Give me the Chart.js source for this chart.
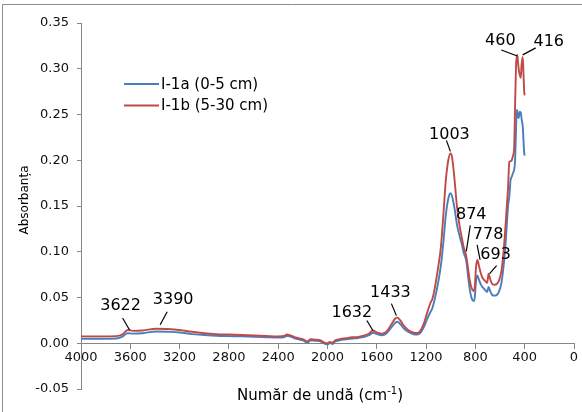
<!DOCTYPE html>
<html>
<head>
<meta charset="utf-8">
<script src="https://cdn.jsdelivr.net/npm/chart.js@4.4.1/dist/chart.umd.min.js"></script>
<style>
  html, body { margin: 0; padding: 0; background: #fff; }
  canvas { display: block; }
</style>
</head>
<body>
<canvas id="spectra" width="582" height="412"></canvas>
<script>
// wave numbers (cm-1), shared by both samples
var wavenumbers = [4000, 3800, 3700, 3660, 3622, 3580, 3500, 3390, 3300, 3200, 3100, 3000, 2900, 2800, 2700, 2600,
    2500, 2400, 2350, 2330, 2300, 2250, 2200, 2160, 2140, 2100, 2060, 2030, 2000, 1980, 1960, 1940, 1900, 1850,
    1800, 1750, 1700, 1660, 1632, 1600, 1560, 1520, 1480, 1450, 1433, 1410, 1380, 1340, 1300, 1270, 1250, 1220,
    1190, 1165, 1150, 1130, 1100, 1080, 1060, 1040, 1020, 1003, 990, 970, 950, 930, 910, 895, 874, 860, 845, 830,
    815, 805, 795, 784, 770, 755, 740, 720, 705, 693, 680, 665, 645, 625, 610, 590, 575, 560, 545, 535, 525, 515,
    505, 495, 485, 478, 470, 465, 460, 455, 449, 440, 432, 425, 416, 410, 404, 400];

// I-1a (0-5 cm)
var absI1a = [.0050, .0050, .0055, .0075, .0110, .0105, .0110, .0128, .0125, .0118, .0100, .0090, .0082, .0078,
    .0075, .0070, .0066, .0062, .0068, .0082, .0072, .0048, .0032, .0005, .0032, .0028, .0022, -.0002, -.0012,
    .0002, -.0008, .0016, .0032, .0042, .0052, .0058, .0070, .0090, .0115, .0100, .0088, .0110, .0175, .0225,
    .0235, .0210, .0160, .0120, .0098, .0095, .0108, .0170, .0270, .0340, .0380, .0480, .0680, .0850, .1100,
    .1400, .1580, .1640, .1610, .1480, .1300, .1180, .1080, .0990, .0900, .0740, .0580, .0490, .0460, .0500,
    .0680, .0740, .0690, .0640, .0610, .0580, .0560, .0616, .0570, .0530, .0520, .0530, .0560, .0650, .0800,
    .1000, .1300, .1500, .1600, .1780, .1820, .1860, .1900, .2000, .2350, .2550, .2540, .2480, .2460, .2530,
    .2520, .2450, .2370, .2220, .2080, .2050];

// I-1b (5-30 cm)
var absI1b = [.0075, .0075, .0080, .0100, .0145, .0135, .0140, .0158, .0155, .0145, .0125, .0110, .0100, .0095,
    .0090, .0085, .0080, .0075, .0080, .0095, .0085, .0060, .0045, .0020, .0045, .0040, .0035, .0010, .0000,
    .0015, .0005, .0030, .0045, .0055, .0065, .0070, .0085, .0110, .0140, .0120, .0105, .0130, .0210, .0270,
    .0280, .0250, .0190, .0140, .0115, .0112, .0130, .0210, .0340, .0440, .0480, .0600, .0850, .1050, .1400,
    .1780, .2000, .2075, .2040, .1800, .1500, .1300, .1150, .1050, .0950, .0820, .0680, .0600, .0570, .0620,
    .0830, .0910, .0840, .0760, .0710, .0680, .0660, .0760, .0700, .0650, .0640, .0650, .0680, .0780, .0950,
    .1200, .1500, .1700, .1980, .1990, .2000, .2050, .2150, .2600, .3050, .3120, .3150, .3080, .3000, .2930,
    .2900, .3050, .3130, .2950, .2750, .2710];

var seriesNames = ['I-1a (0-5 cm)', 'I-1b (5-30 cm)'];
var seriesColors = ['#4a7ebb', '#be4b48'];

// labelled bands and the absorbance where the leader line points
var peakLabels = [3622, 3390, 1632, 1433, 1003, 874, 778, 693, 460, 416];
var peakAbs = [.0145, .0158, .014, .028, .2075, .095, .091, .076, .315, .313];

// leader line start / end and text centre, px offsets from the band point
var peakOffsets = [
    [[-5, -12], [2, 0], [-7, -24]],
    [[11, -17], [4, -4], [17, -29]],
    [[-6, -10], [0, 0], [-21, -18]],
    [[-6, -14], [-1, -2], [-7, -25]],
    [[-4, -13], [0, -2], [-1, -19]],
    [[4, -31], [0, -5], [5, -41]],
    [[-1, -15], [2, 0], [10, -25]],
    [[8, -8], [1, 0], [7, -19]],
    [[-16, -5], [0, 1], [-17, -14]],
    [[13, -9], [0, -2], [26, -15]]
];

var FONT = '"DejaVu Sans", Arial, sans-serif';
var AXIS_GREY = '#868686';

function toPoints(values) {
    return wavenumbers.map(function (wn, i) { return {x: wn, y: values[i]}; });
}

var extras = {
    id: 'extras',
    afterDraw: function (chart) {
        var ctx = chart.ctx;
        var xs = chart.scales.x, ys = chart.scales.y;
        ctx.save();

        // chart border (Excel style, cut off at right/bottom)
        ctx.strokeStyle = '#8c8c8c';
        ctx.lineWidth = 1;
        ctx.beginPath();
        ctx.moveTo(2.5, 412);
        ctx.lineTo(2.5, 4.5);
        ctx.lineTo(582, 4.5);
        ctx.stroke();

        // peak annotations
        ctx.fillStyle = '#000';
        ctx.strokeStyle = '#000';
        ctx.font = '16px ' + FONT;
        ctx.textAlign = 'center';
        ctx.textBaseline = 'middle';
        peakLabels.forEach(function (wn, i) {
            var px = xs.getPixelForValue(wn);
            var py = ys.getPixelForValue(peakAbs[i]);
            var o = peakOffsets[i];
            ctx.lineWidth = 1.2;
            ctx.beginPath();
            ctx.moveTo(px + o[0][0], py + o[0][1]);
            ctx.lineTo(px + o[1][0], py + o[1][1]);
            ctx.stroke();
            ctx.fillText(String(wn), px + o[2][0], py + o[2][1]);
        });

        // legend
        ctx.font = '15px ' + FONT;
        ctx.textAlign = 'left';
        seriesNames.forEach(function (name, i) {
            var y = 84 + i * 21.5;
            ctx.strokeStyle = seriesColors[i];
            ctx.lineWidth = 2;
            ctx.beginPath();
            ctx.moveTo(124, y);
            ctx.lineTo(159, y);
            ctx.stroke();
            ctx.fillStyle = '#000';
            ctx.fillText(name, 161, y + 1);
        });

        // y axis title
        ctx.save();
        ctx.translate(25, 200);
        ctx.rotate(-Math.PI / 2);
        ctx.font = '12px ' + FONT;
        ctx.textAlign = 'center';
        ctx.fillText('Absorbanța', 0, 0);
        ctx.restore();

        // x axis title with superscript
        var main = 'Număr de undă (cm', sup = '-1', tail = ')';
        ctx.font = '15px ' + FONT;
        var w1 = ctx.measureText(main).width, w3 = ctx.measureText(tail).width;
        ctx.font = '10px ' + FONT;
        var w2 = ctx.measureText(sup).width;
        var x0 = 320 - (w1 + w2 + w3) / 2, yb = 400;
        ctx.textAlign = 'left';
        ctx.textBaseline = 'alphabetic';
        ctx.font = '15px ' + FONT;
        ctx.fillText(main, x0, yb);
        ctx.font = '10px ' + FONT;
        ctx.fillText(sup, x0 + w1, yb - 6);
        ctx.font = '15px ' + FONT;
        ctx.fillText(tail, x0 + w1 + w2, yb);

        ctx.restore();
    }
};

var chart = new Chart(document.getElementById('spectra'), {
    type: 'line',
    data: {
        datasets: [{
            label: seriesNames[0],
            data: toPoints(absI1a),
            borderColor: seriesColors[0],
            order: 2
        }, {
            label: seriesNames[1],
            data: toPoints(absI1b),
            borderColor: seriesColors[1],
            order: 1
        }]
    },
    options: {
        responsive: false,
        animation: false,
        layout: {padding: {left: 0, right: 8, top: 23, bottom: 23}},
        elements: {
            point: {radius: 0},
            line: {borderWidth: 1.9, cubicInterpolationMode: 'monotone', fill: false}
        },
        plugins: {legend: {display: false}, tooltip: {enabled: false}},
        scales: {
            x: {
                type: 'linear',
                reverse: true,
                min: 0,
                max: 4000,
                position: {y: 0},
                ticks: {
                    stepSize: 400, autoSkip: false, maxRotation: 0, padding: 2,
                    color: '#111', font: {family: FONT, size: 13},
                    callback: function (v) { return String(Math.round(v)); }
                },
                grid: {drawOnChartArea: false, tickLength: 5, color: AXIS_GREY},
                border: {color: AXIS_GREY}
            },
            y: {
                min: -0.05,
                max: 0.35,
                ticks: {
                    stepSize: 0.05, padding: 8, color: '#111', font: {family: FONT, size: 13},
                    callback: function (v) {
                        if (Math.abs(v) < 1e-9) v = 0;
                        return v.toFixed(2);
                    }
                },
                grid: {drawOnChartArea: false, tickLength: 4, color: AXIS_GREY},
                border: {color: AXIS_GREY},
                afterFit: function (scale) { scale.width = 81; }
            }
        }
    },
    plugins: [extras]
});
</script>
</body>
</html>
